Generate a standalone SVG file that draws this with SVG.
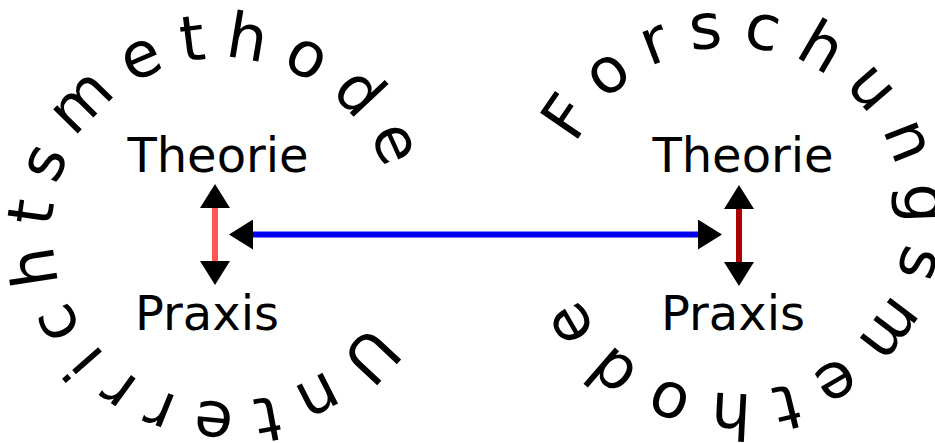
<svg xmlns="http://www.w3.org/2000/svg" width="935" height="443" viewBox="0 0 935 443">
<style>
text{font-family:"DejaVu Sans","Liberation Sans",sans-serif;fill:#000}
.lbl{font-size:48px;text-anchor:middle}
.ring{font-size:63px;letter-spacing:17px}
#right-method text{letter-spacing:18px}
.ln{fill:none;stroke-width:6}
</style>
<defs>
<marker id="head" markerUnits="userSpaceOnUse" markerWidth="25" markerHeight="30" refX="0" refY="15" orient="auto-start-reverse" viewBox="0 0 25 30">
<path d="M0,0 L24,15 L0,30 Z" fill="#000"/>
</marker>
<path id="ringL" d="M369.1,322.4 A172,172 0 1 1 78.9,137.6 A172,172 0 1 1 369.1,322.4"/>
<path id="ringR" d="M576.2,144.7 A173,173 0 1 1 887.8,295.3 A173,173 0 1 1 576.2,144.7"/>
</defs>
<rect width="935" height="443" fill="#fff"/>
<g id="left-method">
<text class="ring"><textPath href="#ringL">Unterrichtsmethode</textPath></text>
</g>
<g id="right-method">
<text class="ring"><textPath href="#ringR">Forschungsmethode</textPath></text>
</g>
<g id="theorie-left"><text class="lbl" x="218" y="172">Theorie</text></g>
<g id="praxis-left"><text class="lbl" x="207" y="330">Praxis</text></g>
<g id="theorie-right"><text class="lbl" x="743" y="172">Theorie</text></g>
<g id="praxis-right"><text class="lbl" x="733" y="330">Praxis</text></g>
<g id="connectors">
<line class="ln" x1="215" y1="208" x2="215" y2="261" stroke="#ff5555" marker-start="url(#head)" marker-end="url(#head)"/>
<line class="ln" x1="739" y1="209" x2="739" y2="262" stroke="#aa0000" marker-start="url(#head)" marker-end="url(#head)"/>
<line class="ln" x1="253" y1="234.5" x2="698" y2="234.5" stroke="#0000ee" marker-start="url(#head)" marker-end="url(#head)"/>
</g>
</svg>
